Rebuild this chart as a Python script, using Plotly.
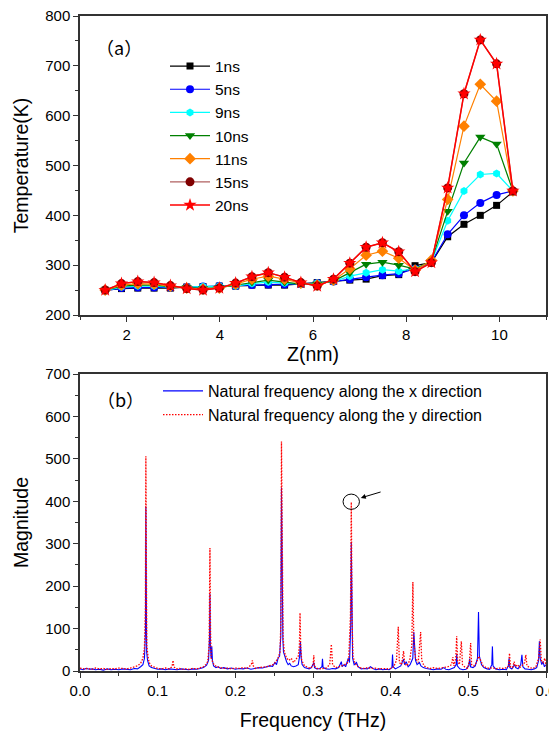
import plotly.graph_objects as go

# ---------------- Panel (a) data ----------------
z_nm = [1.54, 1.89, 2.24, 2.59, 2.94, 3.29, 3.64, 3.99, 4.34, 4.69, 5.04, 5.39, 5.74,
        6.09, 6.44, 6.79, 7.14, 7.49, 7.84, 8.19, 8.54, 8.89, 9.24, 9.59, 9.94, 10.29]
series_names = ["1ns", "5ns", "9ns", "10ns", "11ns", "15ns", "20ns"]
t_1ns = [250, 253, 254, 254, 254, 256, 257, 258, 258, 260, 260, 260, 262,
         265, 268, 270, 272, 279, 281, 299, 305, 357, 382, 400, 420, 447]
t_5ns = [249, 254, 255, 255, 255, 256, 257, 258, 258, 260, 261, 261, 262,
         264, 267, 272, 276, 280, 283, 293, 306, 362, 400, 425, 441, 449]
t_9ns = [249, 256, 258, 258, 256, 256, 257, 258, 258, 263, 266, 264, 262,
         264, 267, 278, 285, 291, 288, 293, 307, 389, 449, 482, 484, 449]
t_10ns = [250, 258, 260, 260, 257, 255, 253, 255, 260, 266, 270, 266, 262,
          262, 268, 285, 302, 306, 300, 292, 308, 408, 505, 557, 543, 449]
t_11ns = [250, 260, 263, 262, 258, 254, 252, 254, 262, 272, 278, 272, 264,
          260, 270, 293, 320, 328, 314, 290, 310, 432, 579, 663, 629, 449]
t_15ns = [250, 263, 267, 265, 259, 253, 250, 254, 264, 277, 285, 276, 265,
          258, 272, 304, 336, 345, 327, 287, 305, 455, 644, 752, 704, 449]
t_20ns = [250, 263, 267, 265, 259, 253, 250, 254, 264, 277, 285, 276, 265,
          258, 272, 304, 336, 345, 327, 287, 305, 455, 644, 752, 704, 449]

# ---------------- Panel (b) data ----------------
freq_x = [0.000, 0.004, 0.008, 0.012, 0.016, 0.020, 0.025, 0.030, 0.035, 0.040, 0.045, 0.050,
          0.055, 0.060, 0.065, 0.070, 0.074, 0.078, 0.081, 0.083, 0.0843, 0.0848, 0.0853, 0.0858,
          0.087, 0.089, 0.092, 0.096, 0.100, 0.105, 0.110, 0.115, 0.120, 0.125, 0.130, 0.135,
          0.140, 0.145, 0.150, 0.155, 0.159, 0.163, 0.1655, 0.1668, 0.1673, 0.1679, 0.1688, 0.1697,
          0.1705, 0.172, 0.175, 0.178, 0.181, 0.185, 0.190, 0.195, 0.200, 0.205, 0.210, 0.215,
          0.220, 0.225, 0.230, 0.235, 0.240, 0.244, 0.248, 0.251, 0.253, 0.255, 0.257, 0.2585,
          0.2594, 0.2602, 0.2612, 0.262, 0.264, 0.266, 0.268, 0.270, 0.272, 0.275, 0.278, 0.281,
          0.2828, 0.2838, 0.2848, 0.286, 0.289, 0.292, 0.295, 0.298, 0.3005, 0.3012, 0.302, 0.305,
          0.309, 0.3115, 0.3122, 0.313, 0.317, 0.321, 0.325, 0.329, 0.333, 0.3365, 0.3375, 0.340,
          0.342, 0.344, 0.3455, 0.347, 0.3486, 0.3493, 0.3500, 0.351, 0.353, 0.356, 0.358, 0.362,
          0.366, 0.370, 0.374, 0.377, 0.381, 0.386, 0.390, 0.394, 0.398, 0.4016, 0.4024, 0.4032,
          0.406, 0.410, 0.413, 0.4165, 0.418, 0.420, 0.4225, 0.425, 0.4285, 0.4298, 0.4308, 0.432,
          0.434, 0.437, 0.439, 0.442, 0.446, 0.450, 0.455, 0.460, 0.465, 0.4685, 0.471, 0.475,
          0.479, 0.482, 0.4843, 0.4851, 0.4858, 0.489, 0.493, 0.497, 0.5005, 0.5018, 0.5028, 0.506,
          0.509, 0.5118, 0.5131, 0.5142, 0.517, 0.520, 0.524, 0.5275, 0.5302, 0.5310, 0.5318, 0.535,
          0.540, 0.545, 0.549, 0.5515, 0.5525, 0.5535, 0.556, 0.5595, 0.561, 0.564, 0.5675, 0.5690,
          0.5702, 0.573, 0.577, 0.581, 0.585, 0.588, 0.5905, 0.5915, 0.5925, 0.5945, 0.596, 0.598,
          0.600]
mag_x = [5, 3, 6, 4, 5, 3, 4, 2, 5, 3, 4, 3,
         5, 4, 3, 6, 5, 10, 15, 30, 90, 388, 120, 45,
         25, 12, 8, 6, 4, 5, 3, 5, 4, 3, 5, 4,
         3, 5, 4, 6, 8, 14, 25, 80, 182, 60, 30, 58,
         25, 12, 8, 10, 6, 8, 5, 7, 4, 6, 5, 7,
         4, 6, 8, 7, 9, 12, 11, 20, 15, 30, 35, 80,
         432, 140, 75, 45, 30, 22, 15, 18, 12, 10, 12, 15,
         35, 70, 30, 15, 8, 6, 5, 8, 15, 20, 8, 5,
         6, 10, 29, 8, 5, 4, 6, 5, 8, 22, 10, 15,
         10, 25, 30, 20, 110, 304, 90, 30, 15, 20, 10, 5,
         6, 5, 10, 6, 3, 5, 3, 4, 3, 8, 39, 10,
         5, 8, 12, 28, 15, 22, 10, 15, 30, 92, 40, 25,
         15, 20, 12, 8, 6, 5, 3, 5, 4, 8, 4, 3,
         5, 8, 15, 40, 12, 5, 3, 4, 12, 29, 10, 8,
         12, 30, 139, 35, 15, 8, 5, 4, 15, 58, 12, 5,
         3, 4, 3, 12, 30, 8, 5, 15, 8, 5, 15, 38,
         10, 5, 4, 3, 5, 8, 25, 70, 30, 15, 22, 10,
         15]

freq_y = [0.000, 0.005, 0.010, 0.015, 0.020, 0.025, 0.030, 0.035, 0.040, 0.045, 0.050, 0.055,
          0.060, 0.065, 0.070, 0.074, 0.078, 0.081, 0.083, 0.0842, 0.0848, 0.0854, 0.086, 0.0875,
          0.089, 0.092, 0.096, 0.100, 0.105, 0.110, 0.115, 0.1185, 0.1198, 0.1208, 0.124, 0.128,
          0.132, 0.136, 0.140, 0.145, 0.150, 0.155, 0.159, 0.162, 0.1645, 0.1662, 0.1673, 0.1681,
          0.169, 0.171, 0.173, 0.176, 0.180, 0.185, 0.190, 0.195, 0.200, 0.205, 0.210, 0.215,
          0.2205, 0.2220, 0.2232, 0.226, 0.230, 0.235, 0.240, 0.245, 0.249, 0.252, 0.255, 0.2575,
          0.2587, 0.2594, 0.2603, 0.2615, 0.263, 0.266, 0.269, 0.272, 0.275, 0.278, 0.281, 0.2825,
          0.2833, 0.2842, 0.2855, 0.289, 0.293, 0.297, 0.3002, 0.3010, 0.3018, 0.305, 0.309, 0.313,
          0.317, 0.3215, 0.3236, 0.3252, 0.329, 0.333, 0.337, 0.341, 0.344, 0.346, 0.3482, 0.3493,
          0.3503, 0.3515, 0.354, 0.358, 0.362, 0.366, 0.370, 0.375, 0.380, 0.385, 0.390, 0.395,
          0.400, 0.404, 0.4075, 0.4098, 0.4112, 0.414, 0.4166, 0.418, 0.421, 0.4245, 0.4272, 0.4286,
          0.4298, 0.432, 0.4355, 0.4386, 0.440, 0.443, 0.447, 0.451, 0.455, 0.460, 0.465, 0.470,
          0.474, 0.4785, 0.4800, 0.4815, 0.4838, 0.4850, 0.4862, 0.4885, 0.4910, 0.4925, 0.496, 0.499,
          0.5015, 0.5030, 0.5042, 0.507, 0.5105, 0.5135, 0.516, 0.519, 0.523, 0.527, 0.531, 0.535,
          0.540, 0.545, 0.549, 0.5518, 0.5530, 0.5542, 0.557, 0.5590, 0.5605, 0.5635, 0.566, 0.569,
          0.5725, 0.5740, 0.5755, 0.579, 0.583, 0.587, 0.5905, 0.5925, 0.5940, 0.596, 0.5985, 0.600]
mag_y = [7, 5, 6, 4, 7, 5, 6, 4, 6, 5, 7, 6,
         5, 7, 9, 12, 18, 30, 55, 150, 506, 150, 60, 35,
         20, 12, 8, 6, 5, 7, 5, 10, 25, 10, 5, 6,
         4, 5, 4, 6, 5, 7, 10, 15, 22, 60, 290, 90,
         30, 20, 14, 10, 8, 6, 7, 5, 7, 6, 8, 6,
         15, 25, 12, 6, 8, 9, 10, 13, 15, 22, 30, 45,
         120, 541, 180, 78, 45, 30, 25, 30, 20, 28, 35, 60,
         137, 55, 25, 12, 8, 6, 15, 37, 12, 6, 5, 6,
         7, 15, 63, 15, 8, 10, 12, 15, 18, 30, 130, 398,
         120, 35, 18, 10, 7, 6, 8, 6, 7, 5, 6, 5,
         6, 10, 25, 104, 20, 15, 47, 18, 12, 25, 60, 210,
         70, 30, 20, 92, 25, 12, 8, 6, 8, 6, 7, 9,
         10, 15, 33, 12, 30, 82, 25, 15, 70, 15, 8, 6,
         25, 66, 15, 12, 20, 35, 25, 12, 8, 6, 8, 5,
         7, 6, 8, 12, 42, 10, 8, 22, 10, 15, 8, 12,
         20, 38, 12, 8, 6, 10, 30, 74, 25, 20, 30, 12]

legend_b = ["Natural frequency along the x direction", "Natural frequency along the y direction"]

FONT = "Arial, Liberation Sans, sans-serif"

fig = go.Figure()

styles = [
    dict(line=dict(color="#000000", width=1.2), marker=dict(symbol="square", size=7, color="#000000")),
    dict(line=dict(color="#0000FF", width=1.2), marker=dict(symbol="circle", size=8, color="#0000FF")),
    dict(line=dict(color="#00FFFF", width=1.2), marker=dict(symbol="hexagon", size=8, color="#00FFFF")),
    dict(line=dict(color="#008000", width=1.2), marker=dict(symbol="triangle-down", size=9, color="#008000")),
    dict(line=dict(color="#FF8000", width=1.2), marker=dict(symbol="diamond", size=9, color="#FF8000")),
    dict(line=dict(color="#B06060", width=1.2), marker=dict(symbol="circle", size=9, color="#800000")),
    dict(line=dict(color="#FF0000", width=1.5), marker=dict(symbol="star", size=10, color="#FF0000")),
]
all_t = [t_1ns, t_5ns, t_9ns, t_10ns, t_11ns, t_15ns, t_20ns]
for name, tv, st in zip(series_names, all_t, styles):
    fig.add_trace(go.Scatter(x=z_nm, y=tv, name=name, mode="lines+markers",
                             line=st["line"], marker=st["marker"],
                             xaxis="x", yaxis="y", legend="legend"))

fig.add_trace(go.Scatter(x=freq_x, y=mag_x, name=legend_b[0], mode="lines",
                         line=dict(color="#0000FF", width=1.1),
                         xaxis="x2", yaxis="y2", legend="legend2"))
fig.add_trace(go.Scatter(x=freq_y, y=mag_y, name=legend_b[1], mode="lines",
                         line=dict(color="#FF0000", width=1.3, dash="1.5px,1.5px"),
                         xaxis="x2", yaxis="y2", legend="legend2"))

axis_common = dict(showline=True, linecolor="#333333", linewidth=1.5, mirror=True,
                   ticks="outside", ticklen=5, tickwidth=1.2, tickcolor="#333333",
                   showgrid=False, zeroline=False, automargin=False,
                   ticklabeloverflow="allow",
                   tickfont=dict(family=FONT, size=15, color="#000000"))
minor_common = dict(ticks="outside", ticklen=3, tickwidth=1.2, tickcolor="#333333", showgrid=False)

# the page body adds an 8px offset, so the figure is sized to fill the window exactly
fig.update_layout(
    width=549, height=723,
    margin=dict(l=72, r=11, t=8, b=60),
    paper_bgcolor="white", plot_bgcolor="white",
    font=dict(family=FONT, color="#000000"),
    xaxis=dict(domain=[0, 1], anchor="y", range=[1, 11], tick0=0, dtick=2,
               minor=dict(dtick=1, **minor_common),
               title=dict(text="Z(nm)", font=dict(family=FONT, size=19.5), standoff=0),
               **axis_common),
    yaxis=dict(domain=[0.5435, 1], anchor="x", range=[200, 800], dtick=100,
               minor=dict(dtick=50, **minor_common),
               title=dict(text="Temperature(K)", font=dict(family=FONT, size=19.5), standoff=11),
               **axis_common),
    xaxis2=dict(domain=[0, 1], anchor="y2", range=[0, 0.6], dtick=0.1, tickformat=".1f",
                minor=dict(dtick=0.05, **minor_common),
                title=dict(text="Frequency (THz)", font=dict(family=FONT, size=19.5), standoff=23),
                **axis_common),
    yaxis2=dict(domain=[0, 0.4534], anchor="x2", range=[0, 700], dtick=100,
                minor=dict(dtick=50, **minor_common),
                title=dict(text="Magnitude", font=dict(family=FONT, size=19.5), standoff=11),
                **axis_common),
    legend=dict(x=(165 - 80) / 466, y=1 - (49.5 - 16) / 655, xanchor="left", yanchor="top",
                bgcolor="rgba(0,0,0,0)", borderwidth=0, itemwidth=40,
                font=dict(family=FONT, size=15.5, color="#000000"), tracegroupgap=0),
    legend2=dict(x=(158 - 80) / 466, y=1 - (374 - 16) / 655, xanchor="left", yanchor="top",
                 bgcolor="rgba(0,0,0,0)", borderwidth=0, itemwidth=40,
                 font=dict(family=FONT, size=16, color="#000000"), tracegroupgap=0),
    showlegend=True,
)

fig.add_annotation(text="（a）", xref="x domain", yref="y domain", x=0.0837, y=0.896,
                   xanchor="center", yanchor="middle",
                   showarrow=False, font=dict(family="Noto Sans CJK SC, sans-serif", size=18, color="#000000"))
fig.add_annotation(text="（b）", xref="x2 domain", yref="y2 domain", x=0.087, y=0.917,
                   xanchor="center", yanchor="middle",
                   showarrow=False, font=dict(family="Noto Sans CJK SC, sans-serif", size=18, color="#000000"))

# circle marking the y-direction peak and arrow pointing to it
fig.add_shape(type="circle", xref="x2", yref="y2", x0=0.3387, x1=0.3598, y0=381, y1=417,
              line=dict(color="#000000", width=1))
fig.add_annotation(x=0.3615, y=408, ax=0.389, ay=423, xref="x2", yref="y2", axref="x2", ayref="y2",
                   text="", showarrow=True, arrowhead=2, arrowsize=1, arrowwidth=1, arrowcolor="#000000")

fig.write_html("out.html")
